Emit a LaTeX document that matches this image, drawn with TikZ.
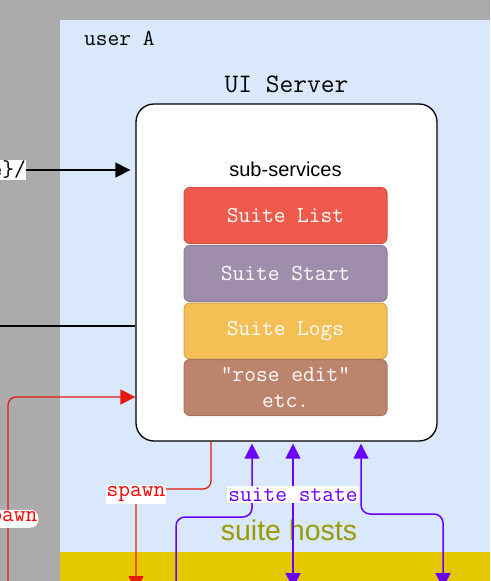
\documentclass[tikz,border=0pt]{standalone}
\usepackage{fontspec}
\setmainfont{Liberation Sans}
\setsansfont{Liberation Sans}
\usetikzlibrary{
    positioning,
    arrows.meta
    }

\definecolor{outsidegray}{HTML}{ABABAB}
\definecolor{userblue}{HTML}{DAE8FC}
\definecolor{hostyellow}{HTML}{E3C800}
\definecolor{listred}{HTML}{EF5A4D}
\definecolor{startpurple}{HTML}{A08DAB}
\definecolor{logsyellow}{HTML}{F4BF55}
\definecolor{rosebrown}{HTML}{BC846C}
\definecolor{spawnred}{HTML}{E51A0E}
\definecolor{statepurple}{HTML}{6A00FF}
\definecolor{hostolive}{HTML}{999900}

\begin{document}
\begin{tikzpicture}[x=1pt, y=-1pt]
% chktex-file 8
\tikzset{mono/.style =
        {
            font=\fontsize{22.8}{26}\selectfont\ttfamily,
            inner sep=0pt
        }
}

\tikzset{server/.style =
        {
            rectangle,
            rounded corners=18pt,
            line width=1.3pt,
            draw=black,
            fill=white,
            minimum width=301pt,
            minimum height=337pt
        }
}

\tikzset{service/.style =
        {
            mono,
            rectangle,
            rounded corners=6pt,
            line width=1pt,
            text=white,
            align=center,
            minimum width=203pt,
            minimum height=56pt
        }
}

\tikzset{tag/.style =
        {
            mono,
            fill=white,
            inner xsep=1pt,
            inner ysep=1.5pt
        }
}

\tikzset{tip/.style = {-{Triangle[length=15pt, width=15pt]}}}

\tikzset{link/.style = {
            line width=1.3pt,
            black
        }
}

\tikzset{spawn/.style = {
            line width=1.3pt,
            spawnred,
            rounded corners=8pt,
            -{Triangle[length=15pt, width=15pt]}
        }
}

\tikzset{state/.style = {
            line width=1.5pt,
            statepurple,
            rounded corners=9pt,
            {Triangle[length=15pt, width=15pt]}-{Triangle[length=15pt, width=15pt]},
            shorten <=2pt
        }
}

\tikzset{state up/.style = {
            state,
            {Triangle[length=15pt, width=15pt]}-
        }
}

\useasboundingbox (0,0) rectangle (490,581);
\clip (0,0) rectangle (490,581);

% areas
\fill[outsidegray] (0,0) rectangle (490,581);
\fill[userblue] (60,20) rectangle (490,581);
\fill[hostyellow] (60,552) rectangle (490,581);

\node[mono, anchor=base west] (user) at (84,45) {user A};
\node[anchor=base, text=hostolive, font=\fontsize{28.5}{32}\selectfont\sffamily, inner sep=0pt]
    (hosts) at (289,540) {suite hosts};

% ui server and its sub-services
\node[server] (ui) at (286.5,272.5) {};
\node[mono, font=\fontsize{26.7}{30}\selectfont\ttfamily, above=10pt of ui] (uititle) {UI Server};

\foreach \name / \ypos / \c in
    {list/215.5/listred,
        start/273.5/startpurple,
        logs/331/logsyellow,
        rose/387.5/rosebrown}
\node[service, fill=\c, draw=\c!88!black] at (285.5,\ypos) (svc-\name) {};

\node[service] at (svc-list) {Suite List};
\node[service] at (svc-start) {Suite Start};
\node[service] at (svc-logs) {Suite Logs};
\node[service] at (svc-rose) {"rose edit"\\etc.};

\node[font=\fontsize{20}{24}\selectfont\sffamily, inner sep=0pt, above=10pt of svc-list] (subs) {sub-services};

% connectors from the left
\node[tag, anchor=east, inner xsep=0pt] (url) at (26,170) {e\}/};
\draw[link, tip, shorten >=5pt] (url.east) -- (url.east -| ui.west);

\coordinate (edge) at (0,326);
\draw[link] (edge) -- (edge -| ui.west);

\coordinate (spawnfar) at (8,600);
\draw[spawn] (spawnfar) |- (ui.west |- 0,397)
    node[tag, text=red, pos=0.2] (spawnleft) {spawn};

% connectors to the suite hosts
\coordinate (spawnhost) at (136,591);
\draw[spawn] (ui.south -| 211,0) |- (spawnhost |- 0,489) -- (spawnhost);
\node[tag, text=red] (spawnmid) at (136,494.5) {spawn};

\coordinate (host1) at (176,595);
\coordinate (host2) at (293,588);
\coordinate (host3) at (443,588);
\draw[state up] (ui.south -| 252,0) -- (252,517) -| (host1);
\draw[state] (ui.south -| 293,0) -- (host2);
\draw[state] (ui.south -| 361,0) -- (361,514) -| (host3);
\node[tag, text=statepurple] (statetag) at (293,494.5) {suite state};

\end{tikzpicture}
\end{document}
